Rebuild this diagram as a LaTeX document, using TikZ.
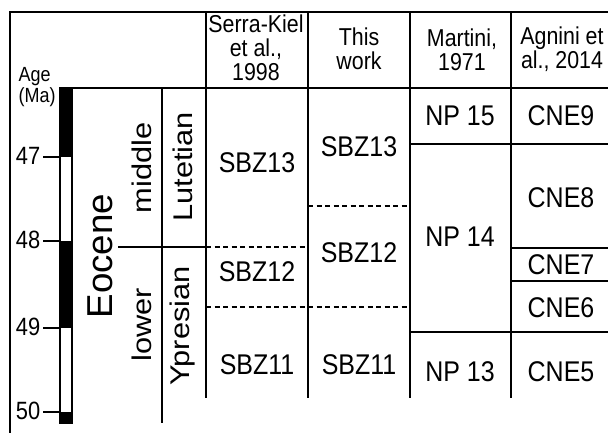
\documentclass[tikz,border=0pt]{standalone}
\usepackage{fontspec}
\setmainfont{Liberation Sans}[FakeStretch=0.876]
\newfontfamily\rotfont{Liberation Sans}[FakeStretch=1.14]
\newfontfamily\eocfont{Liberation Sans}[FakeStretch=1.02]
\begin{document}
\begin{tikzpicture}[x=1pt,y=-1pt,line width=1.3pt,
  dashline/.style={line width=1.3pt,dash pattern=on 5pt off 3.5pt},
  zone/.style={font=\fontsize{28.5}{28}\selectfont,inner sep=0pt},
  head/.style={font=\fontsize{24.4}{24}\selectfont,align=center,inner sep=0pt},
  rotlab/.style={rotate=90,inner sep=0pt,font=\rotfont\fontsize{27}{27}\selectfont},
  agelab/.style={anchor=east,inner sep=0pt,font=\fontsize{25}{25}\selectfont}]
\useasboundingbox (0,0) rectangle (608,433);
% frame
\draw (10,433) -- (10,12) -- (608,12);
\draw (60,88) -- (608,88);
% column lines
\foreach \x in {206,308,410,511} \draw (\x,12) -- (\x,398);
\draw (162,88) -- (162,423);
% boundaries
\draw (118,247) -- (206,247);
\draw[dashline] (206,247) -- (308,247);
\draw[dashline] (308,206) -- (410,206);
\draw[dashline] (206,307) -- (410,307);
\draw (410,144) -- (608,144);
\draw (511,248) -- (608,248);
\draw (511,281) -- (608,281);
\draw (410,332) -- (608,332);
% polarity bar
\fill (60,88) rectangle (72,157);
\fill (60,241) rectangle (72,328);
\fill (60,412) rectangle (72,423);
\draw (60,88) rectangle (72,423);
% ticks
\draw (43,157) -- (60,157);
\draw (43,241) -- (60,241);
\draw (43,328) -- (60,328);
\draw (43,412) -- (60,412);
\node[agelab] (a47) at (41,156) {47};
\node[agelab] (a48) at (41,240) {48};
\node[agelab] (a49) at (41,327) {49};
\node[agelab] (a50) at (41,411) {50};
\node[anchor=west,align=left,inner sep=0pt,font=\fontsize{20.5}{21}\selectfont] (age) at (18,87) {Age\\(Ma)};
% headers
\node[head] (h1) at (256,48) {Serra-Kiel\\et al.,\\1998};
\node[head] (h2) at (359,49) {This\\work};
\node[head] (h3) at (462,49.5) {Martini,\\1971};
\node[head] (h4) at (562,49.5) {Agnini et\\al., 2014};
% rotated labels
\node[rotate=90,inner sep=0pt,font=\eocfont\fontsize{36}{36}\selectfont] (eoc) at (100,256) {Eocene};
\node[rotlab] (mid) at (142,168) {middle};
\node[rotlab] (low) at (142,325) {lower};
\node[rotlab] (lut) at (183,167) {Lutetian};
\node[rotlab] (ypr) at (183,326) {Ypresian};
% zones
\node[zone] (s13) at (257,163) {SBZ13};
\node[zone] (s12) at (257,272) {SBZ12};
\node[zone] (s11) at (257,365) {SBZ11};
\node[zone] (t13) at (359,147) {SBZ13};
\node[zone] (t12) at (359,253) {SBZ12};
\node[zone] (t11) at (359,365) {SBZ11};
\node[zone] (np15) at (460,116) {NP 15};
\node[zone] (np14) at (460,237) {NP 14};
\node[zone] (np13) at (460,372) {NP 13};
\node[zone] (c9) at (561,116) {CNE9};
\node[zone] (c8) at (561,198) {CNE8};
\node[zone] (c7) at (561,265) {CNE7};
\node[zone] (c6) at (561,308) {CNE6};
\node[zone] (c5) at (561,372) {CNE5};
\end{tikzpicture}
\end{document}
